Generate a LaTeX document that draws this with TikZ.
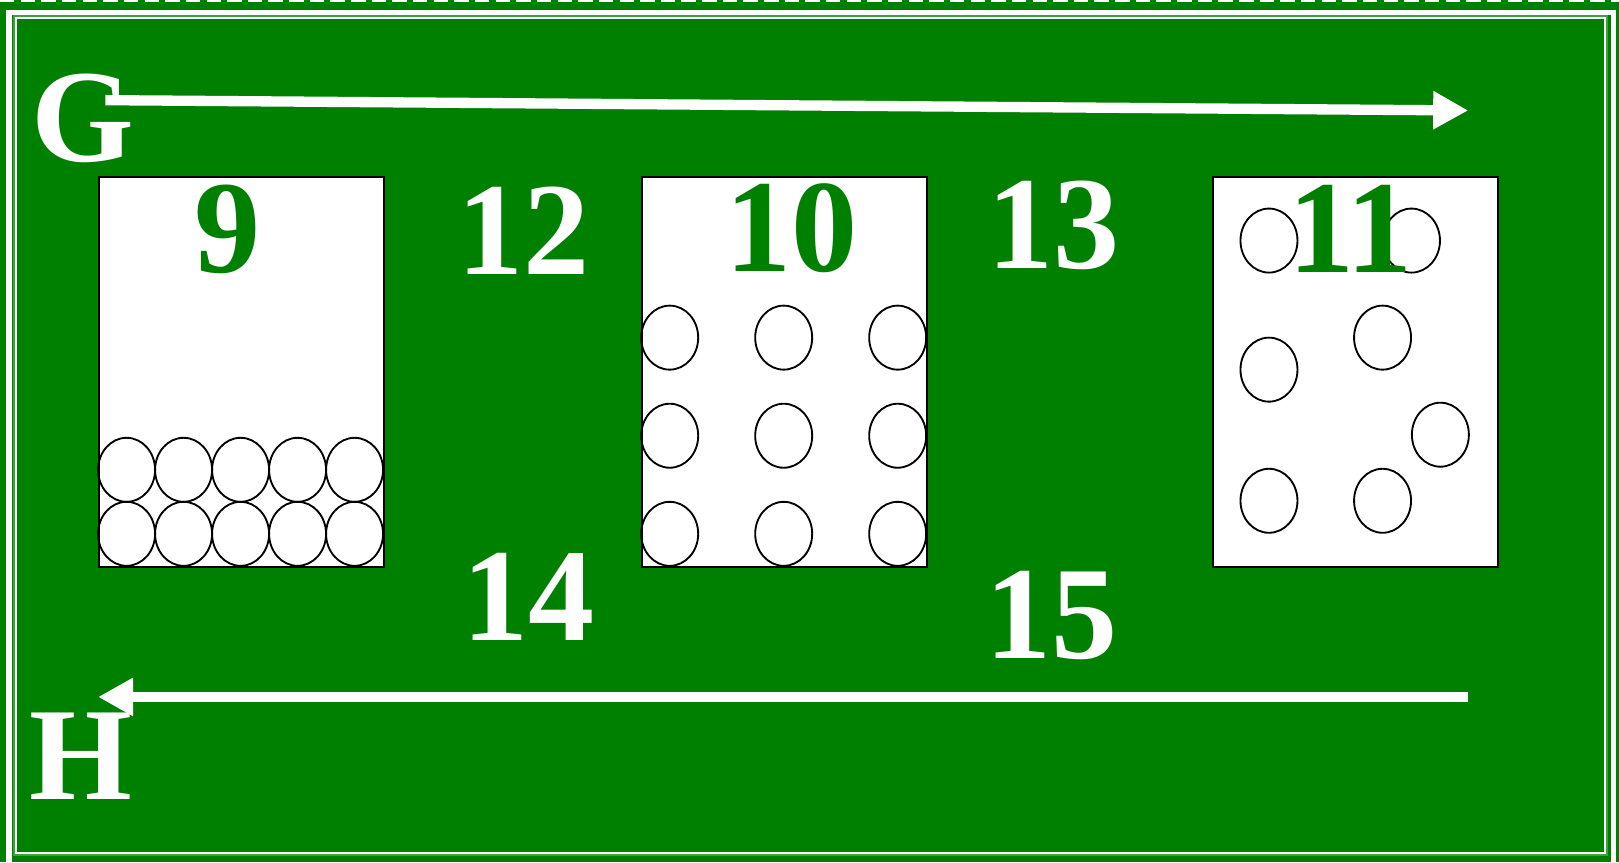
\documentclass[tikz,border=0pt]{standalone}
\usepackage{fontspec}
\setmainfont{Liberation Serif}
\usetikzlibrary{arrows.meta,positioning,calc}
\definecolor{signgreen}{HTML}{008000}
\definecolor{edgegreen}{HTML}{3CA03C}

\begin{document}
\begin{tikzpicture}[x=1pt, y=-1pt,
  every node/.style={font=\fontsize{128}{128}\selectfont\bfseries, inner sep=0pt},
  whitelabel/.style={text=white},
  greenlabel/.style={text=signgreen},
  bin/.style={draw=black, fill=white, line width=2pt, minimum width=276pt,
    minimum height=378pt, anchor=north west},
  ball/.style={draw=black, line width=1.8pt},
  flow/.style={draw=white, line width=10pt, -{Triangle[length=34pt,width=35pt]}},
]
% Background and frame
\fill[signgreen] (0,0) rectangle (1568,835);
\useasboundingbox (0,0) rectangle (1568,835);
\draw[white, line width=2pt, dash pattern=on 14pt off 6pt] (0,1) -- (1568,1);
\draw[white, line width=5pt] (8.7,12.3) rectangle (1563,845);
\draw[edgegreen, line width=4pt] (14.5,16.5) rectangle (1555.5,827);
\draw[white, line width=2pt] (15.5,17.5) rectangle (1554.5,826);

% Direction arrows
\node[whitelabel] (G) at (80,115) {G};
\node[whitelabel] (H) at (78,732) {H};
\coordinate (gstart) at (102,97);
\coordinate (gend) at (1422,107);
\coordinate (hstart) at (1422,675);
\coordinate (hend) at (95,675);
\draw[flow] (gstart) -- (gend);
\draw[flow] (hstart) -- (hend);

% Bins
\node[bin] (bin9) at (95,170) {};
\node[bin] (bin10) at (621,170) {};
\node[bin] (bin11) at (1174,170) {};

% Balls
\foreach \i in {0,...,4}
  \foreach \y in {455,517}
    \draw[ball] (122.6+55.2*\i,\y) ellipse (27.6 and 31);
\foreach \x in {648.6,759,869.4}
  \foreach \y in {327,422,517}
    \draw[ball] (\x,\y) ellipse (27.6 and 31);
\foreach \x/\y in {1229/233, 1367/233, 1339/327, 1229/358, 1395/421, 1229/485, 1339/485}
  \draw[ball] (\x,\y) ellipse (27.6 and 31);

% Numbers
\node[greenlabel] (n9) at (220,222) {9};
\node[greenlabel] (n10) at (767,221) {10};
\node[greenlabel] (n11) at (1308,222) {11};
\node[whitelabel] (n12) at (507,223) {12};
\node[whitelabel] (n13) at (1020,218) {13};
\node[whitelabel] (n14) at (512,578) {14};
\node[whitelabel] (n15) at (1018,596) {15};
\end{tikzpicture}
\end{document}
